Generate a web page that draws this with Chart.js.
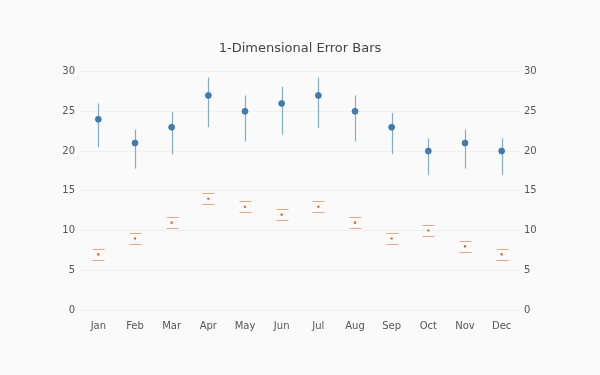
<!DOCTYPE html>
<html>
<head>
<meta charset="utf-8">
<script src="https://cdn.jsdelivr.net/npm/chart.js@4"></script>
<style>
  html, body { margin: 0; padding: 0; background: #fafafa; }
  #wrap { width: 600px; height: 375px; }
</style>
</head>
<body>
<div id="wrap"><canvas id="errChart" width="600" height="375"></canvas></div>
<script>
// data
const months = ["Jan", "Feb", "Mar", "Apr", "May", "Jun", "Jul", "Aug", "Sep", "Oct", "Nov", "Dec"];
const blueValues = [24, 21, 23, 27, 25, 26, 27, 25, 23, 20, 21, 20];
const blueErrUp = [2.0, 1.7, 1.9, 2.25, 2.0, 2.1, 2.25, 2.0, 1.8, 1.6, 1.7, 1.6];
const blueErrDown = [3.5, 3.2, 3.4, 4.0, 3.8, 3.9, 4.1, 3.8, 3.4, 3.0, 3.2, 3.0];
const orangeValues = [7, 9, 11, 14, 13, 12, 13, 11, 9, 10, 8, 7];
const orangeErrUp = [0.7, 0.7, 0.7, 0.7, 0.7, 0.7, 0.7, 0.7, 0.7, 0.7, 0.7, 0.7];
const orangeErrDown = [0.7, 0.7, 0.7, 0.7, 0.7, 0.7, 0.7, 0.7, 0.7, 0.7, 0.7, 0.7];
const yTicks = [0, 5, 10, 15, 20, 25, 30];

const FONT = "'DejaVu Sans', Verdana, sans-serif";

// draws error bars for datasets that carry errUp / errDown arrays
const errorBarPlugin = {
    id: "errorBars",
    beforeDatasetsDraw(chart) {
        const ctx = chart.ctx;
        chart.data.datasets.forEach((ds, di) => {
            if (!ds.errUp) return;
            const meta = chart.getDatasetMeta(di);
            const yScale = chart.scales[meta.yAxisID];
            ctx.save();
            ctx.strokeStyle = ds.errColor;
            ctx.lineWidth = ds.errWidth;
            meta.data.forEach((pt, i) => {
                const x = Math.round(pt.x) + 0.5;
                const yTop = yScale.getPixelForValue(ds.data[i] + ds.errUp[i]);
                const yBot = yScale.getPixelForValue(ds.data[i] - ds.errDown[i]);
                ctx.beginPath();
                if (ds.errStem) {
                    ctx.moveTo(x, yTop);
                    ctx.lineTo(x, yBot);
                }
                if (ds.capWidth) {
                    const h = ds.capWidth / 2;
                    ctx.moveTo(x - h, Math.round(yTop) + 0.5);
                    ctx.lineTo(x + h, Math.round(yTop) + 0.5);
                    ctx.moveTo(x - h, Math.round(yBot) + 0.5);
                    ctx.lineTo(x + h, Math.round(yBot) + 0.5);
                }
                ctx.stroke();
            });
            ctx.restore();
        });
    }
};

const bgPlugin = {
    id: "bg",
    beforeDraw(chart) {
        const ctx = chart.ctx;
        ctx.save();
        ctx.fillStyle = "#fafafa";
        ctx.fillRect(0, 0, chart.width, chart.height);
        ctx.restore();
    }
};

const tickOpts = { font: { family: FONT, size: 10 }, color: "#555" };

new Chart(document.getElementById("errChart").getContext("2d"), {
    type: "line",
    data: {
        labels: months,
        datasets: [
            {
                label: "Blue",
                data: blueValues,
                errUp: blueErrUp,
                errDown: blueErrDown,
                errColor: "#84acd0",
                errWidth: 1.2,
                errStem: true,
                capWidth: 0,
                showLine: false,
                pointRadius: 3,
                pointBackgroundColor: "#3f7db4",
                pointBorderColor: "#2f6799",
                pointBorderWidth: 0.6,
                yAxisID: "y"
            },
            {
                label: "Orange",
                data: orangeValues,
                errUp: orangeErrUp,
                errDown: orangeErrDown,
                errColor: "#eba585",
                errWidth: 1,
                errStem: false,
                capWidth: 12,
                showLine: false,
                pointStyle: "rect",
                pointRadius: 1.5,
                pointBackgroundColor: "#d0601f",
                pointBorderWidth: 0,
                yAxisID: "y"
            }
        ]
    },
    options: {
        responsive: false,
        animation: false,
        layout: { padding: 0 },
        plugins: {
            legend: { display: false },
            tooltip: { enabled: false },
            title: {
                display: true,
                text: "1-Dimensional Error Bars",
                color: "#444",
                font: { family: FONT, size: 13, weight: "normal" },
                padding: { top: 41, bottom: 15 }
            }
        },
        scales: {
            x: {
                offset: true,
                grid: { display: false },
                border: { display: false },
                ticks: { ...tickOpts, padding: 2, maxRotation: 0 },
                afterFit(scale) { scale.height = 65; }
            },
            y: {
                position: "left",
                min: 0,
                max: 30,
                afterBuildTicks(scale) { scale.ticks = yTicks.map(v => ({ value: v })); },
                grid: { color: "#f0f0f0", drawTicks: false },
                border: { display: false },
                ticks: { ...tickOpts, padding: 5 },
                afterFit(scale) { scale.width = 80; }
            },
            y2: {
                position: "right",
                min: 0,
                max: 30,
                afterBuildTicks(scale) { scale.ticks = yTicks.map(v => ({ value: v })); },
                grid: { display: false, drawTicks: false },
                border: { display: false },
                ticks: { ...tickOpts, padding: 4 },
                afterFit(scale) { scale.width = 80; }
            }
        }
    },
    plugins: [bgPlugin, errorBarPlugin]
});
</script>
</body>
</html>
